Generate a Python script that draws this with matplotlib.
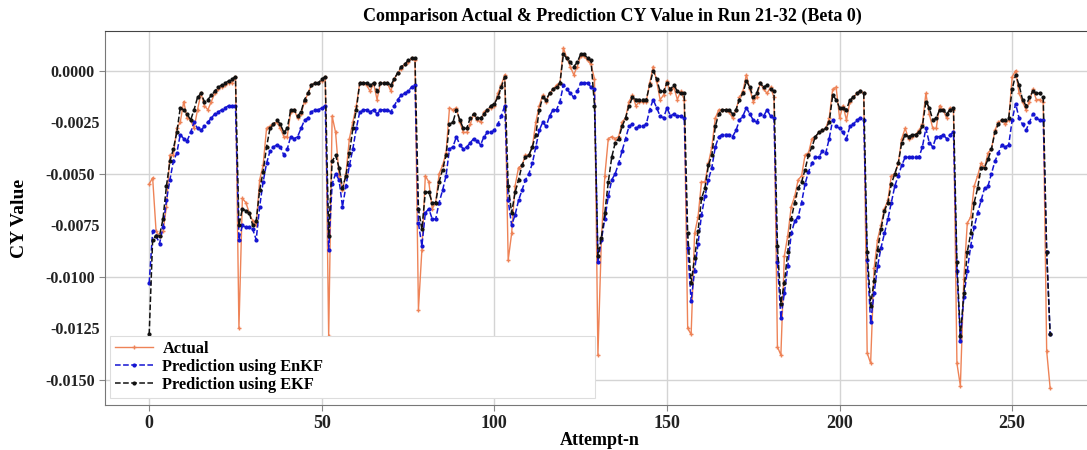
import numpy as np
import matplotlib
matplotlib.use("Agg")
import matplotlib.pyplot as plt
from matplotlib.ticker import MultipleLocator, FormatStrFormatter

# CY values, in units of 1e-4 (one row per run)
actual = [
    -55, -52, -78, -80, -78, -66, -41, -41, -28, -25, -15, -23, -24, -28, -19, -11, -17, -19, -15, -11, -9, -8, -7, -6, -6, -3,
    -125, -62, -64, -69, -73, -75, -53, -46, -28, -27, -26, -25, -28, -32, -32, -20, -19, -23, -21, -15, -11, -7, -6, -6, -5, -3,
    -129, -22, -30, -51, -58, -50, -33, -25, -17, -6, -6, -7, -10, -6, -14, -6, -6, -6, -10, -4, -1, 1, 3, 4, 6, 5,
    -116, -87, -51, -54, -67, -64, -50, -46, -40, -18, -19, -18, -25, -30, -30, -26, -21, -24, -25, -20, -19, -18, -17, -11, -7, -2,
    -92, -79, -56, -47, -46, -41, -41, -37, -25, -17, -12, -15, -11, -9, -7, -6, 11, 6, 2, -2, 2, 7, 7, 5, 3, -4,
    -138, -82, -51, -33, -32, -33, -32, -25, -23, -15, -12, -17, -15, -15, -15, -6, 2, -5, -14, -12, -5, -11, -8, -14, -10, -14,
    -125, -128, -79, -71, -54, -54, -45, -37, -23, -19, -19, -19, -20, -23, -19, -13, -10, -2, -9, -15, -13, -6, -9, -11, -8, -13,
    -134, -138, -90, -80, -66, -61, -53, -51, -41, -40, -33, -32, -30, -29, -28, -23, -9, -8, -23, -17, -24, -15, -13, -11, -10, -11,
    -137, -142, -96, -82, -75, -67, -63, -51, -50, -45, -33, -28, -33, -32, -31, -29, -26, -11, -21, -28, -28, -17, -19, -23, -18, -19,
    -142, -153, -101, -74, -71, -56, -51, -45, -47, -40, -38, -29, -25, -24, -26, -24, -3, 0, -11, -15, -19, -15, -9, -14, -14, -15,
    -136, -154,
]
enkf = [
    -103, -78, -80, -84, -76, -63, -53, -44, -40, -31, -33, -34, -30, -25, -28, -29, -27, -25, -23, -21, -20, -19, -18, -17, -17, -17,
    -82, -75, -76, -76, -77, -82, -66, -54, -45, -39, -37, -36, -37, -41, -38, -32, -33, -32, -28, -24, -23, -20, -19, -19, -18, -17,
    -87, -55, -50, -53, -66, -56, -46, -38, -28, -20, -19, -19, -20, -19, -21, -19, -19, -19, -20, -17, -14, -12, -11, -10, -8, -7,
    -74, -85, -69, -67, -72, -72, -64, -58, -51, -38, -37, -32, -36, -38, -37, -35, -33, -34, -36, -32, -30, -30, -29, -26, -22, -17,
    -63, -75, -70, -63, -58, -53, -50, -45, -37, -29, -25, -27, -22, -19, -19, -15, -7, -9, -11, -13, -10, -6, -6, -6, -8, -9,
    -93, -82, -72, -61, -53, -50, -45, -39, -33, -27, -26, -28, -27, -27, -26, -19, -14, -18, -22, -23, -18, -22, -21, -22, -22, -23,
    -86, -112, -97, -84, -70, -61, -53, -47, -37, -32, -31, -31, -31, -32, -29, -24, -22, -18, -21, -24, -25, -21, -22, -19, -22, -23,
    -93, -120, -108, -95, -79, -73, -71, -64, -55, -49, -45, -42, -42, -39, -40, -33, -24, -27, -28, -30, -33, -27, -26, -24, -23, -24,
    -92, -122, -108, -95, -86, -79, -72, -64, -56, -51, -46, -42, -42, -42, -42, -42, -37, -28, -35, -37, -32, -32, -31, -33, -31, -30,
    -97, -131, -110, -97, -85, -76, -69, -63, -57, -56, -50, -44, -40, -36, -37, -36, -24, -16, -23, -26, -29, -25, -21, -23, -24, -24,
    -88, -128,
]
ekf = [
    -128, -82, -80, -80, -72, -56, -44, -38, -30, -18, -19, -21, -24, -19, -13, -11, -15, -14, -12, -10, -8, -7, -6, -5, -4, -3,
    -75, -67, -68, -69, -75, -73, -58, -49, -37, -28, -26, -24, -26, -30, -28, -19, -19, -22, -20, -14, -11, -7, -6, -6, -4, -3,
    -80, -44, -41, -47, -57, -51, -40, -28, -19, -6, -6, -6, -7, -6, -10, -6, -6, -6, -7, -4, -1, 2, 3, 5, 6, 6,
    -67, -77, -59, -59, -64, -64, -54, -48, -41, -26, -25, -19, -24, -28, -28, -23, -21, -23, -23, -21, -19, -17, -16, -13, -8, -3,
    -56, -69, -59, -53, -46, -42, -41, -37, -31, -19, -13, -14, -11, -9, -8, -6, 8, 6, 4, 2, 4, 8, 8, 6, 5, -17,
    -90, -81, -69, -54, -42, -35, -33, -27, -23, -17, -13, -14, -14, -14, -14, -7, 0, -4, -10, -10, -6, -9, -7, -10, -11, -11,
    -79, -103, -91, -78, -62, -57, -46, -41, -27, -21, -19, -19, -19, -21, -19, -14, -11, -5, -8, -13, -11, -6, -8, -7, -9, -10,
    -85, -113, -103, -88, -72, -64, -57, -54, -48, -41, -37, -32, -30, -29, -28, -25, -12, -14, -18, -18, -19, -14, -13, -11, -10, -11,
    -88, -114, -102, -87, -77, -68, -64, -55, -50, -45, -35, -31, -32, -31, -31, -30, -27, -15, -18, -24, -23, -19, -19, -21, -19, -18,
    -93, -129, -108, -88, -79, -64, -57, -47, -47, -43, -38, -30, -26, -24, -24, -23, -9, -2, -7, -14, -17, -13, -10, -11, -11, -13,
    -88, -128,
]
labels = ["Actual", "Prediction using EnKF", "Prediction using EKF"]

plt.rcParams["font.family"] = ["Liberation Serif", "DejaVu Serif"]
plt.rcParams["font.weight"] = "bold"

fig = plt.figure(figsize=(10.87, 4.5), dpi=100)
ax = fig.add_axes([105 / 1087, 45 / 450, 990 / 1087, 374 / 450])

scale = 1e-4
ax.plot(np.arange(len(actual)), np.array(actual) * scale, color="#ee8357", lw=1.0,
        marker="+", ms=3, label=labels[0])
ax.plot(np.arange(len(enkf)), np.array(enkf) * scale, color="#1414d2", lw=1.1, ls="--",
        marker=".", ms=4, label=labels[1])
ax.plot(np.arange(len(ekf)), np.array(ekf) * scale, color="#111111", lw=1.1, ls="--",
        marker=".", ms=4, label=labels[2])

ax.set_xlim(-12.8, 274)
ax.xaxis.set_major_locator(MultipleLocator(50))
ax.yaxis.set_major_locator(MultipleLocator(0.005))
ax.yaxis.set_minor_locator(MultipleLocator(0.0025))
ax.yaxis.set_major_formatter(FormatStrFormatter("%.4f"))
ax.yaxis.set_minor_formatter(FormatStrFormatter("%.4f"))
ax.tick_params(axis="y", which="both", labelsize=11.5, colors="#222222")
ax.tick_params(axis="y", which="minor", length=0)
ax.tick_params(axis="x", labelsize=13, colors="#222222")
ax.tick_params(which="major", length=4, color="#888888")

ax.grid(True, which="major", color="#d4d4d4", lw=1.0)
ax.set_axisbelow(True)
for s in ax.spines.values():
    s.set_color("#777777")
ax.spines["top"].set_color("#444444")

ax.set_title("Comparison Actual & Prediction CY Value in Run 21-32 (Beta 0)",
             fontsize=13, fontweight="bold", pad=7, x=0.513)
ax.set_xlabel("Attempt-n", fontsize=13, fontweight="bold", labelpad=0)
ax.set_ylabel("CY Value", fontsize=14, fontweight="bold", labelpad=12)

leg = ax.legend(loc="lower left", bbox_to_anchor=(0.005, 0.019, 0.49, 0.17), mode="expand",
                borderaxespad=0, fontsize=11.8, labelspacing=0.12, handlelength=2.3,
                handletextpad=0.6, borderpad=0.3, framealpha=1.0, fancybox=False)
leg.get_frame().set_edgecolor("#dddddd")
leg.get_frame().set_linewidth(0.8)

fig.savefig("out.png", dpi=100)
